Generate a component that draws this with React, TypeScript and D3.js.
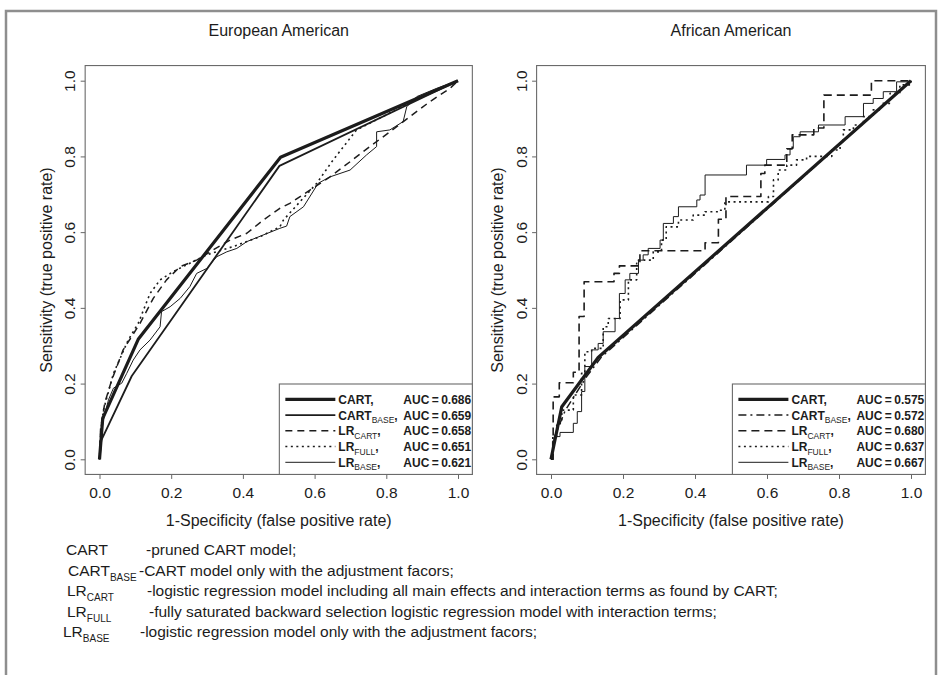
import React, { useRef, useEffect } from "react";
import * as d3 from "d3";

// model names in the legends and the footnote
const modelNames = ["CART", "CART", "LR", "LR", "LR"];
const modelSubs = ["", "BASE", "CART", "FULL", "BASE"];
const eaAuc = ["0.686", "0.659", "0.658", "0.651", "0.621"];
const aaAuc = ["0.575", "0.572", "0.680", "0.637", "0.667"];
const axisTicks = [0, 0.2, 0.4, 0.6, 0.8, 1.0];
const panelTitles = ["European American", "African American"];

// European American ROC curves, [1-specificity, sensitivity]
const eaCart = [[0, 0], [0.009, 0.108], [0.108, 0.317], [0.505, 0.798], [1, 1]];
const eaCartBase = [[0, 0], [0.005, 0.05], [0.09, 0.22], [0.502, 0.775], [1, 1]];
const eaLrCart = [[0, 0], [0.003, 0.08], [0.015, 0.15], [0.034, 0.209], [0.066, 0.289], [0.113, 0.359],
  [0.15, 0.425], [0.187, 0.474], [0.225, 0.509], [0.271, 0.526], [0.317, 0.553], [0.364, 0.579],
  [0.411, 0.597], [0.457, 0.632], [0.503, 0.663], [0.531, 0.676], [0.587, 0.711], [0.643, 0.746],
  [0.699, 0.786], [0.754, 0.826], [0.81, 0.865], [0.866, 0.905], [0.922, 0.945], [0.978, 0.98], [1, 1]];
const eaLrFull = [[0, 0], [0.003, 0.07], [0.011, 0.13], [0.039, 0.227], [0.08, 0.315], [0.108, 0.359],
  [0.141, 0.438], [0.169, 0.474], [0.206, 0.496], [0.252, 0.518], [0.299, 0.54], [0.373, 0.562],
  [0.448, 0.588], [0.503, 0.614], [0.513, 0.632], [0.606, 0.729], [0.652, 0.791], [0.717, 0.87],
  [0.8, 0.91], [0.9, 0.96], [1, 1]];
const eaLrBase = [[0, 0], [0.003, 0.05], [0.01, 0.1], [0.025, 0.157], [0.039, 0.188], [0.062, 0.201],
  [0.076, 0.227], [0.094, 0.262], [0.113, 0.289], [0.141, 0.315], [0.169, 0.35], [0.173, 0.39],
  [0.197, 0.403], [0.225, 0.425], [0.252, 0.456], [0.271, 0.491], [0.299, 0.504], [0.327, 0.535],
  [0.355, 0.548], [0.383, 0.557], [0.411, 0.575], [0.466, 0.596], [0.503, 0.61], [0.522, 0.616],
  [0.531, 0.641], [0.569, 0.667], [0.61, 0.729], [0.643, 0.746], [0.699, 0.764], [0.745, 0.804],
  [0.773, 0.826], [0.773, 0.865], [0.81, 0.87], [0.847, 0.892], [0.857, 0.931], [0.885, 0.958],
  [0.941, 0.98], [1, 1]];

// African American ROC curves; the LR ones are step points (fpr where tpr rises, tpr after)
const aaCart = [[0, 0], [0.03, 0.139], [0.131, 0.269], [1, 1]];
const aaCartBase = [[0, 0], [0.01, 0.06], [0.04, 0.13], [0.1, 0.22], [0.14, 0.27], [1, 1]];
const aaLrCart = [[0, 0], [0.006, 0.165], [0.023, 0.202], [0.062, 0.23], [0.078, 0.377], [0.092, 0.469],
  [0.175, 0.491], [0.19, 0.511], [0.247, 0.551], [0.428, 0.572], [0.465, 0.634], [0.486, 0.694],
  [0.583, 0.755], [0.594, 0.777], [0.655, 0.82], [0.67, 0.857], [0.73, 0.875], [0.758, 0.962],
  [0.89, 1], [1, 1]];
const aaLrFull = [[0, 0], [0.005, 0.06], [0.016, 0.095], [0.03, 0.13], [0.062, 0.17], [0.085, 0.227],
  [0.094, 0.284], [0.113, 0.293], [0.145, 0.35], [0.159, 0.372], [0.192, 0.421], [0.215, 0.474],
  [0.238, 0.518], [0.243, 0.526], [0.284, 0.548], [0.307, 0.579], [0.32, 0.614], [0.354, 0.632],
  [0.395, 0.645], [0.428, 0.654], [0.469, 0.658], [0.483, 0.68], [0.604, 0.694], [0.618, 0.738],
  [0.631, 0.764], [0.655, 0.777], [0.682, 0.791], [0.71, 0.8], [0.78, 0.817], [0.803, 0.835],
  [0.812, 0.87], [0.84, 0.883], [0.868, 0.905], [0.895, 0.923], [0.918, 0.94], [0.942, 0.967],
  [0.969, 0.989], [1, 1]];
const aaLrBase = [[0, 0], [0.004, 0.047], [0.011, 0.06], [0.025, 0.071], [0.062, 0.095], [0.073, 0.126],
  [0.085, 0.179], [0.094, 0.245], [0.113, 0.289], [0.131, 0.306], [0.145, 0.337], [0.178, 0.372],
  [0.19, 0.438], [0.206, 0.474], [0.219, 0.491], [0.243, 0.526], [0.256, 0.54], [0.27, 0.557],
  [0.303, 0.579], [0.312, 0.623], [0.34, 0.641], [0.354, 0.667], [0.405, 0.685], [0.414, 0.698],
  [0.428, 0.751], [0.543, 0.777], [0.599, 0.792], [0.65, 0.804], [0.664, 0.821], [0.673, 0.852],
  [0.692, 0.865], [0.743, 0.883], [0.817, 0.905], [0.868, 0.94], [0.895, 0.953], [0.923, 0.971],
  [0.96, 0.997], [1, 1]];

const footTexts = [
  "-pruned CART model;",
  "-CART model only with the adjustment facors;",
  "-logistic regression model including all main effects and interaction terms as found by CART;",
  "-fully saturated backward selection logistic regression model with interaction terms;",
  "-logistic regression model only with the adjustment facors;",
];

const FONT = "'Liberation Sans', Arial, Helvetica, sans-serif";
const INK = "#1c1c1c";

// line look per legend row
const eaStyles = [
  { w: 3.2, dash: null },
  { w: 1.8, dash: null },
  { w: 1.5, dash: "7,5" },
  { w: 1.6, dash: "2,3.5" },
  { w: 1, dash: null },
];
const aaStyles = [
  { w: 3.2, dash: null },
  { w: 1.5, dash: "8,4,2,4" },
  { w: 1.6, dash: "8,5" },
  { w: 1.6, dash: "2,3.5" },
  { w: 1, dash: null },
];

const App = () => {
  const svgRef = useRef<SVGSVGElement | null>(null);

  useEffect(() => {
    if (!svgRef.current) return;
    const svg = d3.select(svgRef.current);
    svg.selectAll("*").remove();

    // outer frame
    svg.append("rect")
      .attr("x", 6).attr("y", 11).attr("width", 930).attr("height", 720)
      .attr("fill", "none").attr("stroke", "#8e8e8e").attr("stroke-width", 2.5);

    const panels = [
      { x0: 99.5, x1: 458, series: [eaCart, eaCartBase, eaLrCart, eaLrFull, eaLrBase], aucs: eaAuc, styles: eaStyles, steps: [false, false, false, false, false] },
      { x0: 551, x1: 911, series: [aaCart, aaCartBase, aaLrCart, aaLrFull, aaLrBase], aucs: aaAuc, styles: aaStyles, steps: [false, false, true, true, true] },
    ];

    panels.forEach((p, pi) => {
      const x = d3.scaleLinear().domain([0, 1]).range([p.x0, p.x1]);
      const y = d3.scaleLinear().domain([0, 1]).range([459.3, 80.7]);
      const left = x(-0.04), right = x(1.04), top = y(1.04), bottom = y(-0.04);

      const g = svg.append("g");

      // title
      g.append("text")
        .attr("x", (p.x0 + p.x1) / 2).attr("y", 36)
        .attr("text-anchor", "middle")
        .style("font-family", FONT).style("font-size", "16px").style("fill", INK)
        .text(panelTitles[pi]);

      // curves
      p.series.forEach((data, si) => {
        const line = d3.line<number[]>()
          .x(d => x(d[0]))
          .y(d => y(d[1]))
          .curve(p.steps[si] ? d3.curveStepAfter : d3.curveLinear);
        g.append("path")
          .attr("d", line(data as number[][]))
          .attr("fill", "none")
          .attr("stroke", INK)
          .attr("stroke-width", p.styles[si].w)
          .attr("stroke-linejoin", "round")
          .attr("stroke-dasharray", p.styles[si].dash);
      });

      // axes
      const xAxis = g.append("g")
        .attr("transform", `translate(0,${bottom})`)
        .call(d3.axisBottom(x).tickValues(axisTicks).tickFormat(d3.format(".1f")).tickSize(4.5).tickSizeOuter(0).tickPadding(8));
      const yAxis = g.append("g")
        .attr("transform", `translate(${left},0)`)
        .call(d3.axisLeft(y).tickValues(axisTicks).tickFormat(d3.format(".1f")).tickSize(4.5).tickSizeOuter(0));
      [xAxis, yAxis].forEach(a => {
        a.selectAll("line").attr("stroke", "#666");
        a.select(".domain").remove();
        a.selectAll("text")
          .style("font-family", FONT).style("font-size", "15.5px").style("fill", INK);
      });
      yAxis.selectAll("text")
        .attr("x", 0).attr("dy", 0)
        .attr("text-anchor", "middle")
        .attr("transform", "translate(-10,0) rotate(-90)");

      // plot box
      g.append("rect")
        .attr("x", left).attr("y", top)
        .attr("width", right - left).attr("height", bottom - top)
        .attr("fill", "none").attr("stroke", "#6a6a6a").attr("stroke-width", 1.1);

      // axis titles
      g.append("text")
        .attr("x", (p.x0 + p.x1) / 2).attr("y", 525.5)
        .attr("text-anchor", "middle")
        .style("font-family", FONT).style("font-size", "16px").style("fill", INK)
        .text("1-Specificity (false positive rate)");
      g.append("text")
        .attr("transform", `translate(${left - 33.5},${(y(0) + y(1)) / 2}) rotate(-90)`)
        .attr("text-anchor", "middle")
        .style("font-family", FONT).style("font-size", "16px").style("fill", INK)
        .text("Sensitivity (true positive rate)");

      // legend
      const lw = 193;
      const lx = right - lw;
      const ly = 384;
      g.append("rect")
        .attr("x", lx).attr("y", ly).attr("width", lw).attr("height", bottom - ly)
        .attr("fill", "#fff").attr("stroke", "#6a6a6a").attr("stroke-width", 1.1);
      modelNames.forEach((name, i) => {
        const ry = ly + 15.3 + i * 15.75;
        g.append("line")
          .attr("x1", lx + 6).attr("x2", lx + 56).attr("y1", ry).attr("y2", ry)
          .attr("stroke", INK).attr("stroke-width", p.styles[i].w)
          .attr("stroke-dasharray", p.styles[i].dash);
        const t = g.append("text")
          .attr("x", lx + 59).attr("y", ry + 4.5)
          .style("font-family", FONT).style("font-size", "12px").style("font-weight", "bold").style("fill", INK);
        t.append("tspan").text(name);
        if (modelSubs[i]) {
          t.append("tspan").attr("dy", 3.5).style("font-size", "8.5px").style("font-weight", "normal").text(modelSubs[i]);
          t.append("tspan").attr("dy", -3.5).text(",");
        } else {
          t.append("tspan").text(",");
        }
        g.append("text")
          .attr("x", lx + 124).attr("y", ry + 4.5)
          .style("font-family", FONT).style("font-size", "12px").style("font-weight", "bold").style("fill", INK)
          .text("AUC\u2009=\u2009" + p.aucs[i]);
      });
    });

    // footnote
    const labelX = [66, 68, 67, 67, 63];
    const textX = [146, 139, 147, 149, 140];
    modelNames.forEach((name, i) => {
      const by = 555 + i * 20.5;
      const t = svg.append("text")
        .attr("x", labelX[i]).attr("y", by)
        .style("font-family", FONT).style("font-size", "15.5px").style("fill", INK);
      t.append("tspan").text(name);
      if (modelSubs[i]) {
        t.append("tspan").attr("dy", 5).style("font-size", "10px").text(modelSubs[i]);
      }
      svg.append("text")
        .attr("x", textX[i]).attr("y", by)
        .style("font-family", FONT).style("font-size", "15.5px").style("fill", INK)
        .text(footTexts[i]);
    });
  }, []);

  return (
    <svg ref={svgRef} width={941} height={675}
      style={{ position: "absolute", left: 0, top: 0, background: "#fff" }} />
  );
};

export default App;
